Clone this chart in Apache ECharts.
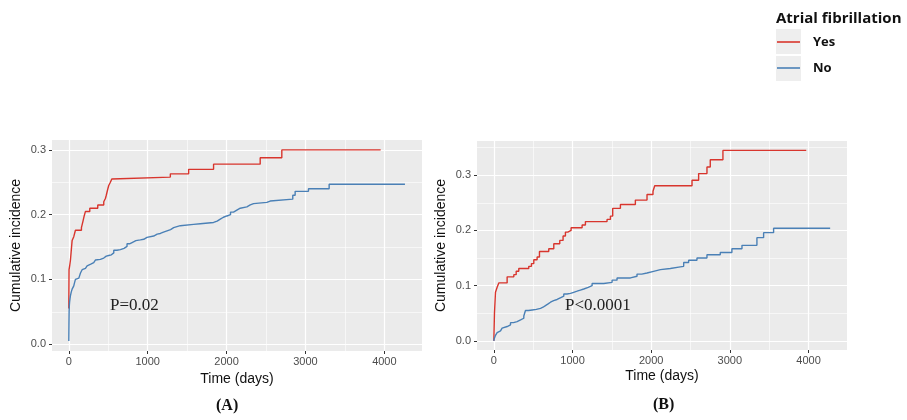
<!DOCTYPE html>
<html>
<head>
<meta charset="utf-8">
<script src="https://cdn.jsdelivr.net/npm/echarts@6/dist/echarts.min.js"></script>
<style>html,body{margin:0;padding:0;background:#fff;}#c{width:907px;height:420px;}</style>
</head>
<body>
<div id="c"></div>
<script>
// ---- Data ----
const legendTitle = 'Atrial fibrillation';
const groups = ['Yes', 'No'];
const xTicks = [0, 1000, 2000, 3000, 4000];
const xMinorTicks = [500, 1500, 2500, 3500];
const yTicksA = [0, 0.1, 0.2, 0.3];
const yMinorA = [0.05, 0.15, 0.25];
const yTicksB = [0, 0.1, 0.2, 0.3];
const yMinorB = [0.05, 0.15, 0.25, 0.35];

// Panel A — Yes
const timeA_yes = [0,3,10,21,28,35,42,52,63,84,160,170,180,195,211,266,367,443,464,475,485,495,506,517,527,545,561,1287,1519,1835,2426,2700,3953];
const incA_yes  = [0.055,0.115,0.12,0.13,0.14,0.15,0.16,0.163,0.166,0.176,0.18,0.185,0.19,0.198,0.205,0.21,0.215,0.22,0.225,0.23,0.235,0.24,0.245,0.248,0.25,0.255,0.258,0.263,0.27,0.278,0.288,0.3,0.3];
// Panel A — No
const timeA_no = [0,2,4,7,10,15,21,30,42,52,63,73,84,105,127,148,169,190,211,232,253,285,316,337,359,400,443,475,506,540,570,610,654,700,738,770,802,850,907,950,991,1076,1120,1160,1200,1245,1290,1329,1413,1582,1667,1835,1880,1920,1960,2004,2050,2088,2130,2173,2257,2300,2342,2510,2553,2839,2869,3038,3300,4261];
const incA_no  = [0.005,0.03,0.05,0.06,0.065,0.07,0.075,0.08,0.085,0.088,0.09,0.095,0.1,0.102,0.105,0.11,0.115,0.117,0.118,0.121,0.124,0.126,0.128,0.13,0.131,0.133,0.136,0.137,0.138,0.141,0.145,0.146,0.148,0.151,0.155,0.157,0.16,0.161,0.162,0.165,0.167,0.17,0.171,0.173,0.175,0.177,0.18,0.183,0.185,0.186,0.188,0.19,0.193,0.196,0.198,0.2,0.204,0.207,0.21,0.212,0.215,0.217,0.219,0.221,0.224,0.23,0.236,0.24,0.247,0.247];
// Panel B — Yes
const timeB_yes = [0,8,21,42,63,169,254,284,317,444,478,508,550,580,698,762,838,880,910,940,982,1122,1164,1439,1482,1511,1609,1799,1947,2023,2045,2519,2603,2709,2751,2912,3971];
const incB_yes  = [0,0.05,0.088,0.097,0.105,0.116,0.12,0.126,0.131,0.135,0.14,0.147,0.152,0.162,0.167,0.176,0.182,0.19,0.197,0.2,0.205,0.21,0.216,0.22,0.226,0.24,0.247,0.255,0.265,0.271,0.281,0.291,0.303,0.315,0.328,0.345,0.345];
// Panel B — No
const timeB_no = [0,5,10,21,30,42,63,85,105,127,170,212,250,296,340,381,402,440,487,540,593,625,656,690,720,760,804,845,889,930,974,1015,1058,1100,1143,1200,1249,1397,1503,1566,1736,1820,1880,1947,2030,2117,2243,2370,2413,2476,2582,2709,2878,3026,3154,3344,3429,3556,4275];
const incB_no  = [0,0.004,0.006,0.01,0.013,0.015,0.018,0.02,0.023,0.026,0.029,0.033,0.035,0.038,0.041,0.045,0.055,0.056,0.057,0.059,0.061,0.064,0.067,0.07,0.073,0.075,0.078,0.081,0.085,0.086,0.088,0.09,0.092,0.094,0.097,0.1,0.104,0.106,0.11,0.114,0.117,0.121,0.123,0.126,0.129,0.131,0.134,0.135,0.142,0.146,0.15,0.156,0.16,0.167,0.173,0.187,0.196,0.204,0.204];

const pTextA = 'P=0.02';
const pTextB = 'P<0.0001';
const panelLabels = ['(A)', '(B)'];

// ---- Styling ----
const RED = '#d8352d';
const BLUE = '#4a80b6';
const SANS = '"Liberation Sans", Arial, sans-serif';
const SERIF = '"Liberation Serif", "Times New Roman", serif';

function zip(t, v) { return t.map((x, i) => [x, v[i]]); }

const xRangeA = [-213, 4477], yRangeA = [-0.0105, 0.3153];
const xRangeB = [-214, 4489], yRangeB = [-0.0165, 0.362];

function mainX(grid, r, name) {
  return {
    type: 'value', gridIndex: grid, min: r[0], max: r[1], position: 'bottom',
    name: name, nameLocation: 'middle', nameGap: 19,
    nameTextStyle: { fontFamily: SANS, fontSize: 14, color: '#111' },
    axisLine: { show: false, onZero: false },
    axisTick: { show: true, length: 3, lineStyle: { color: '#333', width: 1 }, customValues: xTicks },
    axisLabel: { show: true, customValues: xTicks, margin: 5, fontFamily: SANS, fontSize: 11, color: '#4d4d4d',
      formatter: v => String(v) },
    splitLine: { show: true, lineStyle: { color: '#ffffff', width: 1.2 } }
  };
}
function minorX(grid, r) {
  return {
    type: 'value', gridIndex: grid, min: r[0], max: r[1], position: 'top',
    axisLine: { show: false, onZero: false },
    axisTick: { show: false, customValues: xMinorTicks },
    axisLabel: { show: false, customValues: xMinorTicks },
    splitLine: { show: true, lineStyle: { color: '#ffffff', width: 0.6 } }
  };
}
function mainY(grid, r, ticks, name) {
  return {
    type: 'value', gridIndex: grid, min: r[0], max: r[1], position: 'left',
    name: name, nameLocation: 'middle', nameGap: 29, nameRotate: 90,
    nameTextStyle: { fontFamily: SANS, fontSize: 14, color: '#111' },
    axisLine: { show: false, onZero: false },
    axisTick: { show: true, length: 3, lineStyle: { color: '#333', width: 1 }, customValues: ticks },
    axisLabel: { show: true, customValues: ticks, margin: 6, fontFamily: SANS, fontSize: 11, color: '#4d4d4d',
      formatter: v => Number(v).toFixed(1) },
    splitLine: { show: true, lineStyle: { color: '#ffffff', width: 1.2 } }
  };
}
function minorY(grid, r, ticks) {
  return {
    type: 'value', gridIndex: grid, min: r[0], max: r[1], position: 'right',
    axisLine: { show: false, onZero: false },
    axisTick: { show: false, customValues: ticks },
    axisLabel: { show: false, customValues: ticks },
    splitLine: { show: true, lineStyle: { color: '#ffffff', width: 0.6 } }
  };
}
function curve(name, data, color, xi, yi) {
  return {
    type: 'line', name: name, data: data, step: 'end', xAxisIndex: xi, yAxisIndex: yi,
    showSymbol: false, symbol: 'none', z: 5, animation: false,
    lineStyle: { color: color, width: 1.4 }, itemStyle: { color: color }
  };
}

const chart = echarts.init(document.getElementById('c'), null, { renderer: 'canvas' });
chart.setOption({
  animation: false,
  backgroundColor: '#ffffff',
  title: {
    text: legendTitle, left: 776, top: 11,
    textStyle: { fontFamily: '"Open Sans", "Noto Sans", sans-serif', fontWeight: 'bold', fontSize: 15, color: '#111' },
    padding: 0
  },
  legend: {
    data: groups, orient: 'vertical', left: 777, top: 29, padding: 0, itemGap: 0,
    icon: 'rect', itemWidth: 23, itemHeight: 1.6,
    textStyle: { fontFamily: '"Open Sans", "Noto Sans", sans-serif', fontWeight: 'bold', fontSize: 13,
      color: '#111', lineHeight: 26, padding: [0, 0, 0, 8] },
    selectedMode: false
  },
  grid: [
    { left: 52, top: 140, width: 370, height: 211, show: true, backgroundColor: '#ebebeb', borderWidth: 0 },
    { left: 477, top: 141, width: 370, height: 209, show: true, backgroundColor: '#ebebeb', borderWidth: 0 }
  ],
  xAxis: [
    mainX(0, xRangeA, 'Time (days)'), minorX(0, xRangeA),
    mainX(1, xRangeB, 'Time (days)'), minorX(1, xRangeB)
  ],
  yAxis: [
    mainY(0, yRangeA, yTicksA, 'Cumulative incidence'), minorY(0, yRangeA, yMinorA),
    mainY(1, yRangeB, yTicksB, 'Cumulative incidence'), minorY(1, yRangeB, yMinorB)
  ],
  series: [
    curve(groups[0], zip(timeA_yes, incA_yes), RED, 0, 0),
    curve(groups[1], zip(timeA_no, incA_no), BLUE, 0, 0),
    curve(groups[0], zip(timeB_yes, incB_yes), RED, 2, 2),
    curve(groups[1], zip(timeB_no, incB_no), BLUE, 2, 2)
  ],
  graphic: [
    { type: 'rect', left: 776, top: 29, shape: { width: 25, height: 25 }, style: { fill: '#eeeeee' }, z: -1 },
    { type: 'rect', left: 776, top: 56, shape: { width: 25, height: 25 }, style: { fill: '#eeeeee' }, z: -1 },
    { type: 'text', left: 110, top: 297, style: { text: pTextA, font: '17px ' + SERIF, fill: '#222' }, z: 10 },
    { type: 'text', left: 565, top: 297, style: { text: pTextB, font: '17px ' + SERIF, fill: '#222' }, z: 10 },
    { type: 'text', left: 216, top: 398, style: { text: panelLabels[0], font: 'bold 16px ' + SERIF, fill: '#111' } },
    { type: 'text', left: 653, top: 397, style: { text: panelLabels[1], font: 'bold 16px ' + SERIF, fill: '#111' } }
  ]
});
</script>
</body>
</html>
